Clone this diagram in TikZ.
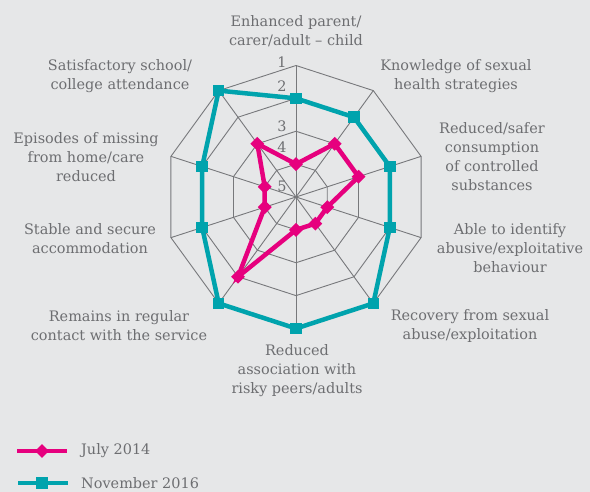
\documentclass[tikz,border=0pt]{standalone}
\usepackage{fontspec}
\setmainfont{DejaVu Serif}
\usetikzlibrary{shapes.geometric}
\definecolor{bg}{HTML}{E6E7E8}
\definecolor{gridc}{HTML}{77787B}
\definecolor{txt}{HTML}{6D6E71}
\definecolor{mag}{HTML}{E6007E}
\definecolor{tealc}{HTML}{00A3AD}
\begin{document}
\begin{tikzpicture}[x=1bp,y=1bp,
  lbl/.style={font=\fontsize{14.5}{19}\selectfont, text=txt, align=center, inner sep=0pt},
  scl/.style={font=\fontsize{14.5}{15}\selectfont, text=txt, inner sep=0pt},
  gridline/.style={draw=gridc, line width=0.9bp},
  ser/.style={line width=4.5bp, line join=miter},
  sq/.style={rectangle, fill=tealc, minimum size=11.5bp, inner sep=0pt},
  dm/.style={diamond, fill=mag, minimum size=14bp, inner sep=0pt}]
\fill[bg] (0,0) rectangle (590,492);
\useasboundingbox (0,0) rectangle (590,492);
\begin{scope}[shift={(296,295)}]
  \coordinate (c) at (0,0);
  \foreach \k in {1,...,4} {
    \draw[gridline] (90:\k*32.875) \foreach \i in {1,...,9}{ -- (90-36*\i:\k*32.875)} -- cycle;
  }
  \foreach \i in {0,...,9} {
    \coordinate (o\i) at (90-36*\i:131.5);
    \draw[gridline] (c) -- (o\i);
  }
  \foreach \v [count=\i from 0] in {2,2,2,2,1,1,1,2,2,1}
    \coordinate (t\i) at (90-36*\i:{(5-\v)*32.875});
  \foreach \v [count=\i from 0] in {4,3,3,4,4,4,2,4,4,3}
    \coordinate (m\i) at (90-36*\i:{(5-\v)*32.875});
\end{scope}
\draw[ser, tealc] (t0) -- (t1) -- (t2) -- (t3) -- (t4) -- (t5) -- (t6) -- (t7) -- (t8) -- (t9) -- cycle;
\foreach \i in {0,...,9} \node[sq] (ts\i) at (t\i) {};
\draw[ser, mag] (m0) -- (m1) -- (m2) -- (m3) -- (m4) -- (m5) -- (m6) -- (m7) -- (m8) -- (m9) -- cycle;
\foreach \i in {0,...,9} \node[dm] (ms\i) at (m\i) {};
% scale labels
\node[scl] (s1) at (282,430) {1};
\node[scl] (s2) at (282,406) {2};
\node[scl] (s3) at (282,366) {3};
\node[scl] (s4) at (282,345) {4};
\node[scl] (s5) at (282,306) {5};
% axis labels
\node[lbl] (l0) at (296,461) {Enhanced parent/\\carer/adult – child};
\node[lbl] (l1) at (456,415.5) {Knowledge of sexual\\health strategies};
\node[lbl] (l2) at (492,335) {Reduced/safer\\consumption\\of controlled\\substances};
\node[lbl] (l3) at (510,244) {Able to identify\\abusive/exploitative\\behaviour};
\node[lbl] (l4) at (470,166) {Recovery from sexual\\abuse/exploitation};
\node[lbl] (l5) at (297,121) {Reduced\\association with\\risky peers/adults};
\node[lbl] (l6) at (119,166) {Remains in regular\\contact with the service};
\node[lbl] (l7) at (90,253) {Stable and secure\\accommodation};
\node[lbl] (l8) at (86,335) {Episodes of missing\\from home/care\\reduced};
\node[lbl] (l9) at (120,415.5) {Satisfactory school/\\college attendance};
% legend
\coordinate (la) at (17,41);
\coordinate (lb) at (67,41);
\coordinate (lc) at (18,9);
\coordinate (ld) at (68,9);
\draw[ser, mag] (la) -- (lb);
\node[dm] (lgm) at (42,41) {};
\node[lbl, anchor=west] (lgt1) at (81,41) {July 2014};
\draw[ser, tealc] (lc) -- (ld);
\node[sq] (lgs) at (42,9) {};
\node[lbl, anchor=west] (lgt2) at (81,9) {November 2016};
\end{tikzpicture}
\end{document}
